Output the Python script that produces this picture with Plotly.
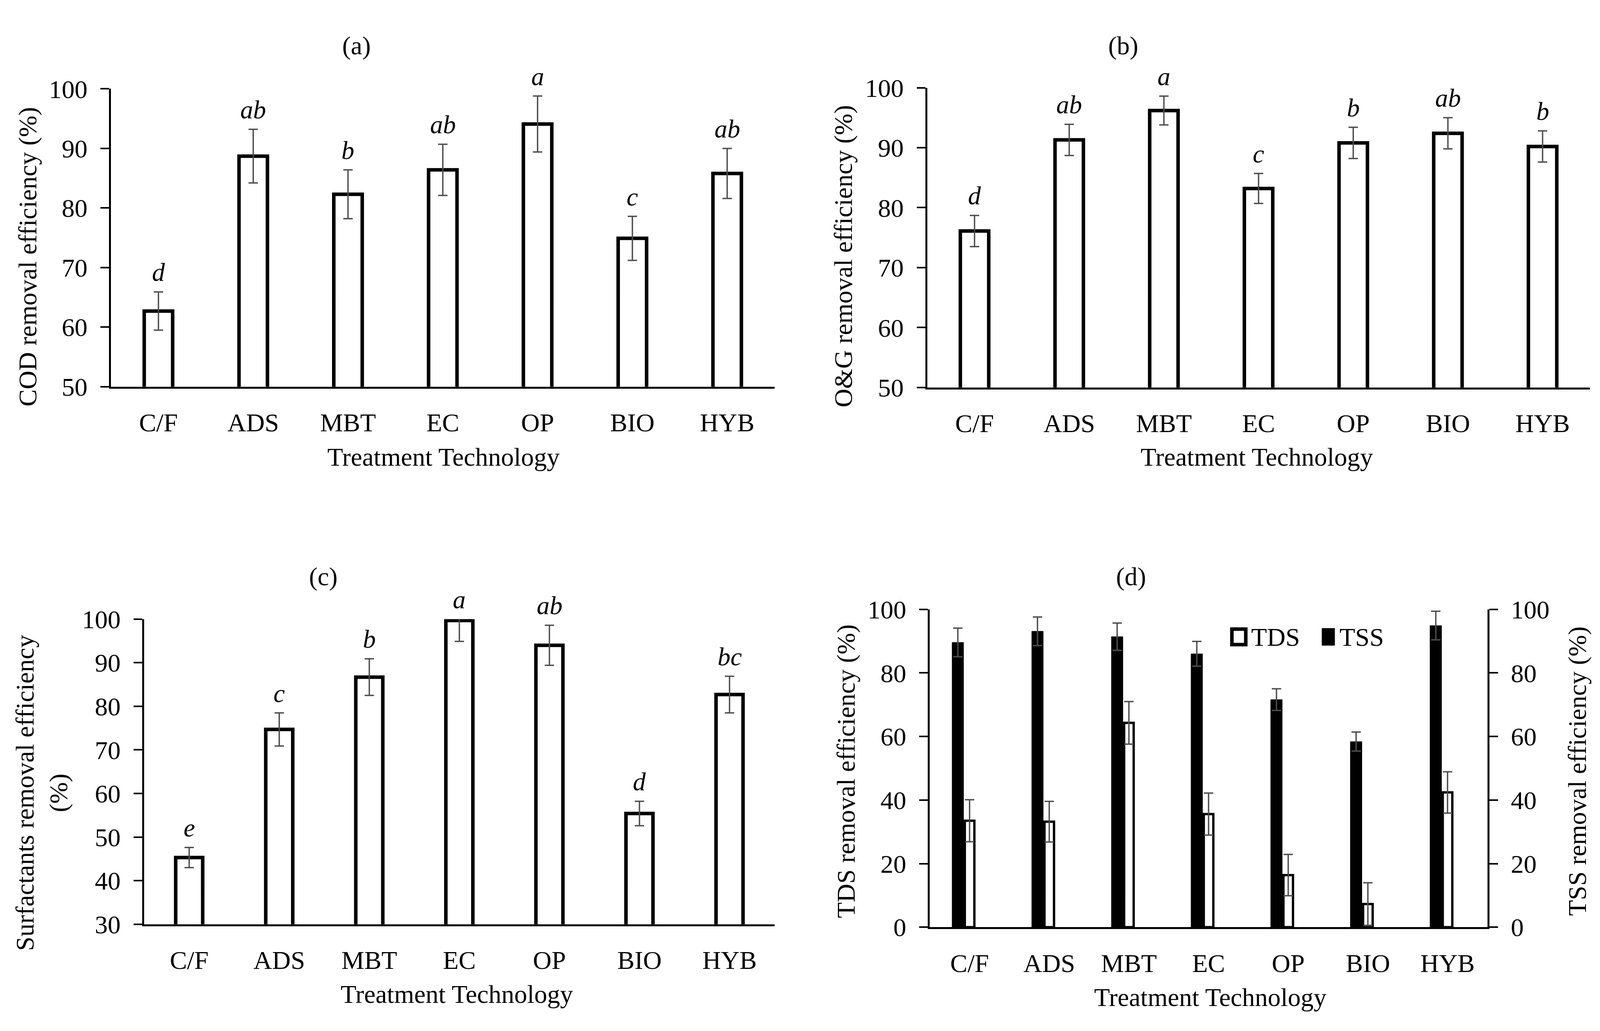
import plotly.graph_objects as go

# --- Data ---
techs = ["C/F", "ADS", "MBT", "EC", "OP", "BIO", "HYB"]

cod = [62.7, 88.7, 82.3, 86.4, 94.1, 74.9, 85.8]
cod_err = [3.2, 4.5, 4.1, 4.3, 4.7, 3.7, 4.2]
cod_letters = ["d", "ab", "b", "ab", "a", "c", "ab"]

og = [76.1, 91.3, 96.2, 83.2, 90.8, 92.4, 90.2]
og_err = [2.6, 2.6, 2.4, 2.5, 2.6, 2.6, 2.6]
og_letters = ["d", "ab", "a", "c", "b", "ab", "b"]

surf = [45.3, 74.7, 86.7, 99.7, 94.0, 55.4, 82.7]
surf_err = [2.3, 3.8, 4.2, 4.8, 4.6, 2.8, 4.2]
surf_letters = ["e", "c", "b", "a", "ab", "d", "bc"]

tds = [33.5, 33.2, 64.3, 35.6, 16.4, 7.3, 42.4]
tds_err = [6.6, 6.4, 6.7, 6.6, 6.5, 6.7, 6.5]
tss = [89.6, 93.1, 91.4, 86.0, 71.6, 58.4, 94.9]
tss_err = [4.5, 4.5, 4.3, 3.9, 3.4, 3.0, 4.5]

FONT = "Liberation Serif"
FS = 66
ERR_COLOR = "#4d4d4d"
W, H = 4264.0, 2639.0  # reference pixel frame used for placing texts

fig = go.Figure()


def err(vals):
    return dict(type="data", array=vals, color=ERR_COLOR, thickness=3.5, width=12)


# panels (a)-(c): open bars with significance letters
panels = [
    (cod, cod_err, cod_letters, "x", "y", 100),
    (og, og_err, og_letters, "x2", "y2", 100),
    (surf, surf_err, surf_letters, "x3", "y3", 100),
]
for vals, errs, letters, xa, ya, ymax in panels:
    fig.add_trace(go.Bar(
        x=techs, y=vals, xaxis=xa, yaxis=ya, width=0.3,
        marker=dict(color="white", line=dict(color="black", width=9)),
        error_y=err(errs), showlegend=False,
    ))
    for t, v, e, lab in zip(techs, vals, errs, letters):
        fig.add_annotation(
            x=t, y=min(v + e, ymax), xref=xa, yref=ya, text="<i>%s</i>" % lab,
            showarrow=False, yanchor="bottom", yshift=12,
            font=dict(family=FONT, size=FS, color="black"),
        )

# panel (d): TDS (left axis) and TSS (right axis)
fig.add_trace(go.Bar(
    x=techs, y=tds, xaxis="x4", yaxis="y4", width=0.12, offset=-0.06,
    marker=dict(color="white", line=dict(color="black", width=6)),
    error_y=err(tds_err), name="TDS", showlegend=False,
))
fig.add_trace(go.Bar(
    x=techs, y=tss, xaxis="x4", yaxis="y5", width=0.145, offset=-0.22,
    marker=dict(color="black", line=dict(color="black", width=1)),
    error_y=err(tss_err), name="TSS", showlegend=False,
))

axis_font = dict(family=FONT, size=FS, color="black")
xcommon = dict(type="category", showline=True, linecolor="black", linewidth=5,
               ticks="", tickfont=axis_font, showgrid=False, zeroline=False,
               ticklabelstandoff=30, fixedrange=True)
ycommon = dict(showline=True, linecolor="black", linewidth=5, ticks="outside",
               ticklen=22, tickwidth=4, tickcolor="black", tickfont=axis_font,
               showgrid=False, zeroline=False, ticklabelstandoff=20)

fig.update_layout(
    width=4096, height=2639,
    margin=dict(l=0, r=0, t=0, b=0),
    paper_bgcolor="white", plot_bgcolor="white",
    font=dict(family=FONT, size=FS, color="black"),
    xaxis=dict(domain=[0.0694, 0.4841], anchor="y", **xcommon),
    yaxis=dict(domain=[0.6283, 0.9254], anchor="x", range=[50, 100], dtick=10, **ycommon),
    xaxis2=dict(domain=[0.5795, 0.9937], anchor="y2", **xcommon),
    yaxis2=dict(domain=[0.6275, 0.9265], anchor="x2", range=[50, 100], dtick=10, **ycommon),
    xaxis3=dict(domain=[0.0901, 0.4841], anchor="y3", **xcommon),
    yaxis3=dict(domain=[0.0921, 0.3964], anchor="x3", range=[30, 100], dtick=10, **ycommon),
    xaxis4=dict(domain=[0.5811, 0.9296], anchor="y4", **xcommon),
    yaxis4=dict(domain=[0.0891, 0.4062], anchor="x4", range=[0, 100], dtick=20, **ycommon),
    yaxis5=dict(anchor="x4", overlaying="y4", side="right", range=[0, 100], dtick=20, **ycommon),
)

# panel titles, axis titles (positions in the reference's pixel frame)
texts = [
    ("(a)", 950, 83, 0),
    ("(b)", 2993, 83, 0),
    ("(c)", 861, 1481, 0),
    ("(d)", 3014, 1481, 0),
    ("Treatment Technology", 1182, 1166, 0),
    ("Treatment Technology", 3349, 1166, 0),
    ("Treatment Technology", 1217, 2580, 0),
    ("Treatment Technology", 3226, 2588, 0),
    ("COD removal efficiency (%)", 74, 639, -90),
    ("O&amp;G removal efficiency (%)", 2248, 637, -90),
    ("Surfactants removal efficiency<br>(%)", 112, 2050, -90),
    ("TDS removal efficiency (%)", 2255, 1993, -90),
    ("TSS removal efficiency (%)", 4203, 1993, -90),
]
for txt, px, py, ang in texts:
    fig.add_annotation(x=px / W, y=1 - py / H, xref="paper", yref="paper", text=txt,
                       showarrow=False, textangle=ang, xanchor="center", yanchor="middle",
                       font=dict(family=FONT, size=FS, color="black"))

# legend for panel (d)
fig.add_shape(type="rect", xref="paper", yref="paper",
              x0=3283 / W, x1=3320 / W, y0=1 - 1660 / H, y1=1 - 1619 / H,
              fillcolor="white", line=dict(color="black", width=9))
fig.add_shape(type="rect", xref="paper", yref="paper",
              x0=3523 / W, x1=3557 / W, y0=1 - 1662 / H, y1=1 - 1617 / H,
              fillcolor="black", line=dict(color="black", width=1))
fig.add_annotation(x=3332 / W, y=1 - 1640 / H, xref="paper", yref="paper", text="TDS",
                   showarrow=False, xanchor="left", yanchor="middle",
                   font=dict(family=FONT, size=FS, color="black"))
fig.add_annotation(x=3568 / W, y=1 - 1640 / H, xref="paper", yref="paper", text="TSS",
                   showarrow=False, xanchor="left", yanchor="middle",
                   font=dict(family=FONT, size=FS, color="black"))

page_js = "document.body.style.margin='0'; document.body.style.overflow='hidden';"
fig.write_html("out.html", post_script=page_js, config={"displayModeBar": False})
